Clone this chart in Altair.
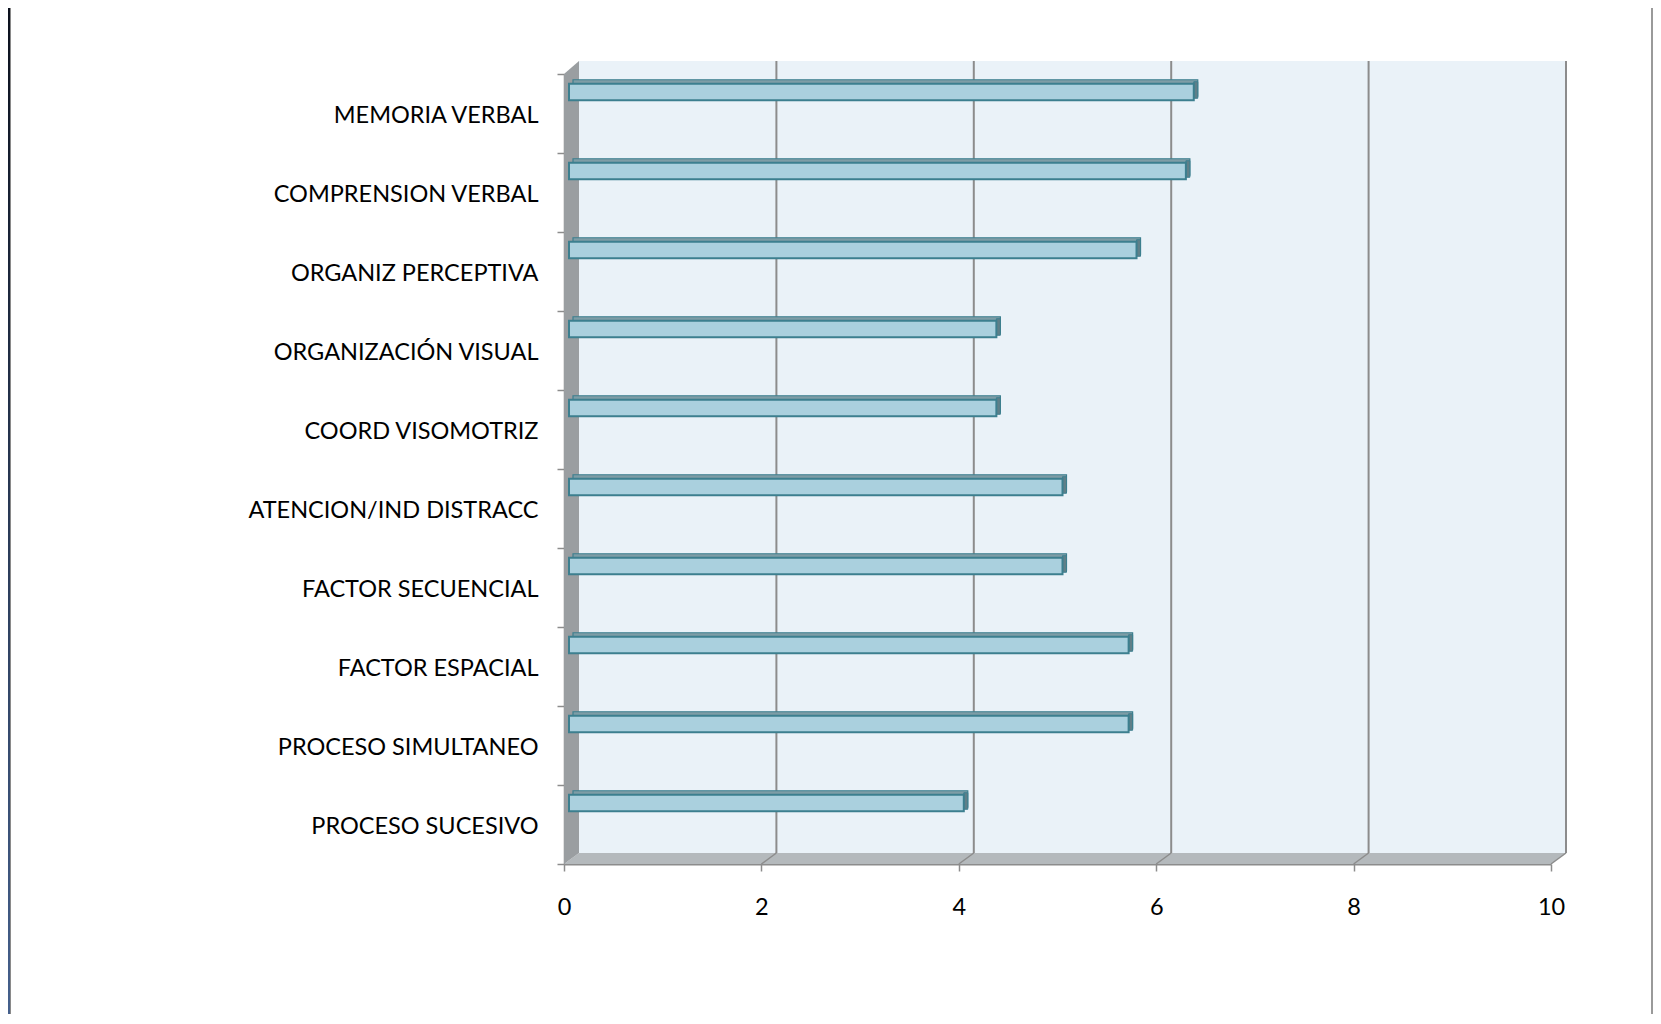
import altair as alt
import pandas as pd

# ---- data ----
categories = [
    "MEMORIA VERBAL",
    "COMPRENSION VERBAL",
    "ORGANIZ PERCEPTIVA",
    "ORGANIZACIÓN VISUAL",
    "COORD VISOMOTRIZ",
    "ATENCION/IND DISTRACC",
    "FACTOR SECUENCIAL",
    "FACTOR ESPACIAL",
    "PROCESO SIMULTANEO",
    "PROCESO SUCESIVO",
]
values = [6.33, 6.25, 5.75, 4.33, 4.33, 5.0, 5.0, 5.67, 5.67, 4.0]
x_ticks = [0, 2, 4, 6, 8, 10]
grid_values = [2, 4, 6, 8, 10]

# ---- layout / style constants ----
W, H = 987, 790          # front plot area
PAD_L, PAD_T = 556, 66
PAD_R, PAD_B = 102, 150
DX = 15                  # depth of the 3-D box (px to the right)
TOP_UP, BOT_UP = 13, 11  # depth of the 3-D box (px up, at top / bottom)
BAR_DX = 5               # bar front plane offset
BAR_D = 4                # bar thickness (depth)
BAR_H = 16.5
BAR_YOFF = -21.5

FONT = "Lato"
GRID = "#8c8c8c"

df = pd.DataFrame({"category": categories, "value": values})
one = alt.Data(values=[{"k": 0}])
grid_df = pd.DataFrame({"g": grid_values})

xscale = alt.Scale(domain=[0, 10], nice=False, zero=True)
yscale = alt.Scale(domain=categories, paddingInner=0, paddingOuter=0)

x_axis = alt.Axis(
    values=x_ticks, tickSize=7, tickColor=GRID, tickWidth=1.5,
    domainColor=GRID, domainWidth=2, grid=False, labelFlush=False,
    labelFont=FONT, labelFontSize=23.5, labelColor="#000000",
    labelPadding=24, format="d", title=None,
)
y_axis = alt.Axis(
    tickBand="extent", tickSize=7, tickColor=GRID, tickWidth=1.5,
    domainColor=GRID, domainWidth=1.5, grid=False,
    labelFont=FONT, labelFontSize=23.5, labelColor="#000000",
    labelPadding=19, labelLimit=500, labelOffset=2, title=None,
)

# back wall
wall = alt.Chart(one).mark_rect(color="#eaf2f8", xOffset=DX, x2Offset=DX).encode(
    x=alt.datum(0, scale=xscale),
    x2=alt.datum(10),
    y=alt.value(-TOP_UP),
    y2=alt.value(H - BOT_UP),
)

# gridlines on the back wall
grid = alt.Chart(grid_df).mark_rule(color=GRID, strokeWidth=2, xOffset=DX).encode(
    x=alt.X("g:Q", scale=xscale, title=None),
    y=alt.value(-TOP_UP),
    y2=alt.value(H - BOT_UP),
)

# floor (parallelogram)
floor_path = f"M0,0 L{W},0 L{W + DX},{-BOT_UP} L{DX},{-BOT_UP} Z"
floor = alt.Chart(one).mark_point(
    shape=floor_path, size=4, filled=True, color="#b4b9bc", opacity=1, strokeWidth=0
).encode(x=alt.datum(0, scale=xscale), y=alt.value(H))

# floor lines
floor_lines = alt.Chart(grid_df).mark_rule(color=GRID, strokeWidth=1.5, x2Offset=DX).encode(
    x=alt.X("g:Q", scale=xscale, title=None),
    x2=alt.X2("g:Q"),
    y=alt.value(H),
    y2=alt.value(H - BOT_UP),
)

# side wall (parallelogram)
side_path = f"M0,0 L{DX},{-TOP_UP} L{DX},{H - BOT_UP} L0,{H} Z"
side = alt.Chart(one).mark_point(
    shape=side_path, size=4, filled=True, color="#9a9ea1", opacity=1, strokeWidth=0
).encode(x=alt.datum(0, scale=xscale), y=alt.value(0))

# bar top face (shifted copy behind the front face)
bar_top = alt.Chart(df).mark_bar(
    color="#7e9da6", stroke="#3c7f8f", strokeWidth=1.2,
    xOffset=BAR_DX + BAR_D, x2Offset=BAR_DX + BAR_D,
    yOffset=BAR_YOFF - BAR_D, height=BAR_H,
).encode(
    y=alt.Y("category:N", sort=categories, scale=yscale, axis=y_axis),
    x=alt.X("value:Q", scale=xscale, axis=x_axis),
    x2=alt.datum(0),
)

# bar right face
bar_right = alt.Chart(df).mark_bar(
    color="#5f7f88", stroke="#3c7f8f", strokeWidth=1,
    xOffset=BAR_DX, x2Offset=BAR_DX + BAR_D,
    yOffset=BAR_YOFF - BAR_D / 2, height=BAR_H,
).encode(
    y=alt.Y("category:N", sort=categories, scale=yscale, axis=y_axis),
    x=alt.X("value:Q", scale=xscale, axis=x_axis),
    x2=alt.X2("value:Q"),
)

# bar front face
bar_front = alt.Chart(df).mark_bar(
    color="#aad0de", stroke="#3c7f8f", strokeWidth=2,
    xOffset=BAR_DX, x2Offset=BAR_DX,
    yOffset=BAR_YOFF, height=BAR_H,
).encode(
    y=alt.Y("category:N", sort=categories, scale=yscale, axis=y_axis),
    x=alt.X("value:Q", scale=xscale, axis=x_axis),
    x2=alt.datum(0),
)

# frame decorations of the slide
left_band = alt.Chart(one).mark_rect(
    color=alt.LinearGradient(
        gradient="linear", x1=0, y1=0, x2=0, y2=1,
        stops=[alt.GradientStop(color="#0c111d", offset=0),
               alt.GradientStop(color="#45608c", offset=1)],
    )
).encode(x=alt.value(-PAD_L), x2=alt.value(-PAD_L + 2),
         y=alt.value(-PAD_T), y2=alt.value(H + PAD_B))
left_line = alt.Chart(one).mark_rect(color="#8a8a8a").encode(
    x=alt.value(-PAD_L + 2), x2=alt.value(-PAD_L + 3),
    y=alt.value(-PAD_T), y2=alt.value(H + PAD_B))
right_line = alt.Chart(one).mark_rect(color="#9a9a9a").encode(
    x=alt.value(W + PAD_R - 2), x2=alt.value(W + PAD_R),
    y=alt.value(-PAD_T), y2=alt.value(H + PAD_B))

chart = alt.layer(
    wall, grid, floor, floor_lines, side, bar_top, bar_right, bar_front,
    left_band, left_line, right_line,
).properties(
    width=W, height=H,
    autosize=alt.AutoSizeParams(type="none"),
    padding={"left": PAD_L, "top": PAD_T, "right": PAD_R, "bottom": PAD_B},
    background="#ffffff",
).configure_view(stroke=None)

chart.save("out.html", embed_options={"renderer": "svg", "actions": False})
